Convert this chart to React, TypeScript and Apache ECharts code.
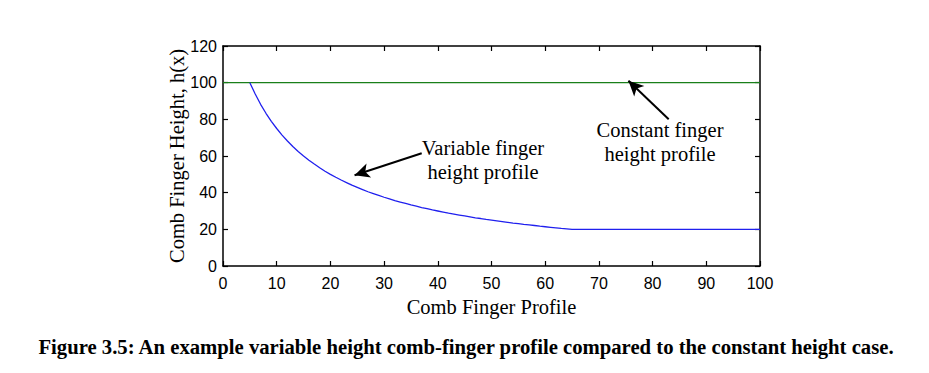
import React, { useEffect, useRef } from "react";
import * as echarts from "echarts";

// Variable finger height profile (x = comb finger position, h = height)
const variableX: number[] = [
  5, 6, 7, 8, 9, 10, 11, 12, 13, 14, 15, 16, 17, 18, 19, 20, 21, 22, 23, 24, 25,
  26, 27, 28, 29, 30, 31, 32, 33, 34, 35, 36, 37, 38, 39, 40, 41, 42, 43, 44, 45,
  46, 47, 48, 49, 50, 51, 52, 53, 54, 55, 56, 57, 58, 59, 60, 61, 62, 63, 64, 65,
  70, 80, 90, 100,
];
const variableH: number[] = [
  100, 93.8, 88.2, 83.3, 78.9, 75, 71.4, 68.2, 65.2, 62.5, 60, 57.7, 55.6, 53.6, 51.7, 50,
  48.4, 46.9, 45.5, 44.1, 42.9, 41.7, 40.5, 39.5, 38.5, 37.5, 36.6, 35.7, 34.9, 34.1, 33.3,
  32.6, 31.9, 31.3, 30.6, 30, 29.4, 28.8, 28.3, 27.8, 27.3, 26.8, 26.3, 25.9, 25.4, 25,
  24.6, 24.2, 23.8, 23.4, 23.1, 22.7, 22.4, 22.1, 21.7, 21.4, 21.1, 20.8, 20.5, 20.3, 20,
  20, 20, 20, 20,
];
// Constant finger height profile
const constantX: number[] = [0, 100];
const constantH: number[] = [100, 100];

const xTicks: number[] = [0, 10, 20, 30, 40, 50, 60, 70, 80, 90, 100];
const yTicks: number[] = [0, 20, 40, 60, 80, 100, 120];

const variableLabel = ["Variable finger", "height profile"];
const constantLabel = ["Constant finger", "height profile"];
const variableArrow: [number, number][] = [[37, 61.5], [24.5, 49.5]];
const constantArrow: [number, number][] = [[83, 80], [75.5, 101]];

const caption =
  "Figure 3.5: An example variable height comb-finger profile compared to the constant height case.";

const tickFont = "'Liberation Sans', Arial, sans-serif";
const serif = "'Liberation Serif', 'Times New Roman', serif";

export default function App() {
  const ref = useRef<HTMLDivElement>(null);
  useEffect(() => {
    if (!ref.current) return;
    const chart = echarts.init(ref.current, null, { renderer: "svg" });
    const axisCommon = {
      type: "value" as const,
      axisLine: { show: true, onZero: false, lineStyle: { color: "#000", width: 1.5 } },
      axisTick: { show: true, inside: true, length: 5, lineStyle: { color: "#000", width: 1.2 } },
      splitLine: { show: false },
    };
    chart.setOption({
      animation: false,
      backgroundColor: "#fff",
      grid: { left: 223, right: 169, top: 46, bottom: 107, containLabel: false },
      xAxis: [
        {
          ...axisCommon,
          position: "bottom",
          min: xTicks[0],
          max: xTicks[xTicks.length - 1],
          interval: 10,
          name: "Comb Finger Profile",
          nameLocation: "middle",
          nameGap: 30,
          nameTextStyle: { fontFamily: serif, fontSize: 20.5, color: "#000" },
          axisLabel: { fontFamily: tickFont, fontSize: 16, color: "#000", margin: 9 },
        },
        {
          ...axisCommon,
          position: "top",
          min: xTicks[0],
          max: xTicks[xTicks.length - 1],
          interval: 10,
          axisLabel: { show: false },
        },
      ],
      yAxis: [
        {
          ...axisCommon,
          position: "left",
          min: yTicks[0],
          max: yTicks[yTicks.length - 1],
          interval: 20,
          name: "Comb Finger Height, h(x)",
          nameLocation: "middle",
          nameGap: 36,
          nameMoveOverlap: false,
          nameTextStyle: { fontFamily: serif, fontSize: 20.5, color: "#000" },
          axisLabel: { fontFamily: tickFont, fontSize: 16, color: "#000", margin: 6 },
        },
        {
          ...axisCommon,
          position: "right",
          min: yTicks[0],
          max: yTicks[yTicks.length - 1],
          interval: 20,
          axisLabel: { show: false },
        },
      ],
      series: [
        {
          type: "line",
          name: "Constant",
          data: constantX.map((x, i) => [x, constantH[i]]),
          showSymbol: false,
          lineStyle: { color: "#1a7f1a", width: 1.3 },
          z: 3,
        },
        {
          type: "line",
          name: "Variable",
          data: variableX.map((x, i) => [x, variableH[i]]),
          showSymbol: false,
          lineStyle: { color: "#2020ee", width: 1.3 },
          z: 4,
          markLine: {
            silent: true,
            symbol: ["none", "arrow"],
            symbolSize: [11, 15],
            label: { show: false },
            lineStyle: { color: "#000", width: 2, type: "solid" },
            data: [
              [{ coord: variableArrow[0] }, { coord: variableArrow[1] }],
              [{ coord: constantArrow[0] }, { coord: constantArrow[1] }],
            ],
          },
        },
      ],
      graphic: [
        {
          type: "text",
          x: 483,
          y: 136,
          style: {
            text: variableLabel.join("\n"),
            font: `20.5px ${serif}`,
            fill: "#000",
            align: "center",
            verticalAlign: "top",
            lineHeight: 24,
          },
        },
        {
          type: "text",
          x: 660,
          y: 118,
          style: {
            text: constantLabel.join("\n"),
            font: `20.5px ${serif}`,
            fill: "#000",
            align: "center",
            verticalAlign: "top",
            lineHeight: 24,
          },
        },
        {
          type: "text",
          x: 466,
          y: 336,
          style: {
            text: caption,
            font: `bold 20.7px ${serif}`,
            fill: "#000",
            align: "center",
            verticalAlign: "top",
          },
        },
      ],
    });
    return () => chart.dispose();
  }, []);
  return (
    <div
      ref={ref}
      style={{ position: "fixed", left: 0, top: 0, width: 929, height: 373, background: "#fff" }}
    />
  );
}
